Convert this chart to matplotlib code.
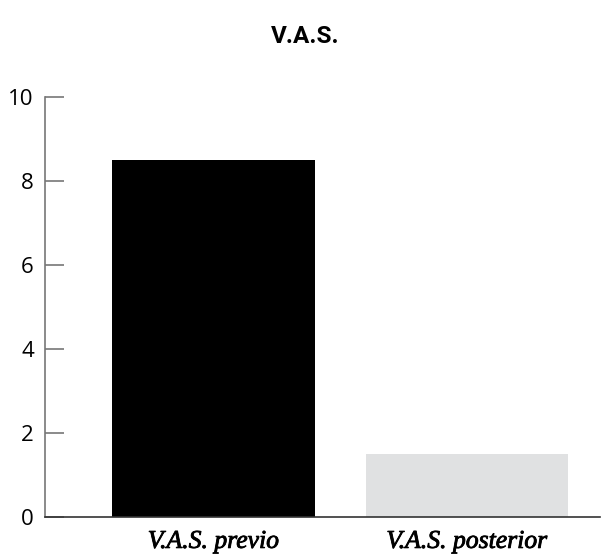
import matplotlib.pyplot as plt
import matplotlib.patheffects as pe

# ── DATA ────────────────────────────────────────────────────────────────────
categorias = ["V.A.S. previo", "V.A.S. posterior"]
valores    = [8.5, 1.5]
colores    = ["#000000", "#e0e1e2"]
yticks     = [0, 2, 4, 6, 8, 10]

# ── GRAFICO ─────────────────────────────────────────────────────────────────
fig = plt.figure(figsize=(6.06, 5.58), dpi=100)
ax = fig.add_axes([45 / 606, 41 / 558, 555 / 606, 420 / 558])

x = range(len(categorias))
ax.bar(x, valores, width=0.8, color=colores)

ax.set_xlim(-0.665, 1.525)
ax.set_ylim(0, 10)
ax.set_yticks(yticks)
ax.set_yticklabels([str(t) for t in yticks], family="Open Sans", fontsize=16)
ax.set_xticks(list(x))
labels = ax.set_xticklabels(categorias, family="Liberation Serif", style="italic", fontsize=18.5)
# un filo di contorno per dare il peso "medium" dell'originale
for lab in labels:
    lab.set_path_effects([pe.withStroke(linewidth=0.6, foreground="black")])

ax.tick_params(axis="y", direction="in", length=14, width=1.2, color="#777777", pad=8)
ax.tick_params(axis="x", length=0, pad=10)

for s in ["top", "right"]:
    ax.spines[s].set_visible(False)
ax.spines["left"].set_color("#777777")
ax.spines["left"].set_linewidth(1.2)
ax.spines["bottom"].set_color("#333333")
ax.spines["bottom"].set_linewidth(1.2)

fig.text(0.503, 0.935, "V.A.S.", ha="center", va="center",
         family="Roboto", fontweight="bold", fontsize=17.5)

plt.savefig("out.png", dpi=100)
